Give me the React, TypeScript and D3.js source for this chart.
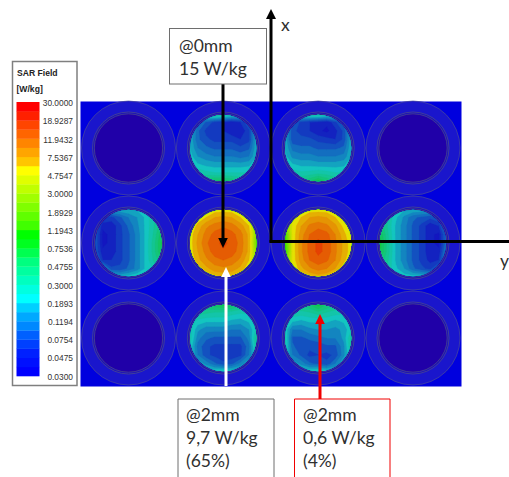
import React from "react";
import * as d3 from "d3";

const legendTicks = ["30.0000","18.9287","11.9432","7.5367","4.7547","3.0000","1.8929","1.1943","0.7536","0.4755","0.3000","0.1893","0.1194","0.0754","0.0475","0.0300"];
const bandColors = ["#0000ff","#0010ff","#0020ff","#0040ff","#0060ff","#0088ff","#00a8ff","#00d0ff","#00ffff","#00ffe0","#00ffc0","#00ffa0","#00ff80","#00ff50","#00ff20","#00ff00","#40ff00","#60ff00","#80ff00","#a0ff00","#c0ff00","#e0ff00","#ffff00","#ffc500","#ffa500","#ff8500","#ff6500","#ff4500","#ff2000","#ff0000"];

const discTopLeft = [
  [.3,.3,.3,.4,.35,.3,.25,.2,.2],
  [.25,.14,.09,.07,.06,.05,.06,.1,.2],
  [.22,.1,.07,.06,.06,.05,.05,.07,.2],
  [.2,.1,.08,.07,.07,.07,.06,.07,.2],
  [.2,.12,.1,.09,.09,.09,.08,.09,.2],
  [.22,.15,.13,.12,.12,.12,.11,.12,.2],
  [.25,.2,.18,.17,.17,.17,.17,.18,.25],
  [.3,.3,.27,.25,.25,.25,.25,.25,.3],
  [.4,.45,.5,.6,.6,.5,.4,.35,.3],
];
const discTopRight = [
  [.25,.25,.3,.35,.35,.3,.28,.25,.2],
  [.2,.1,.07,.06,.055,.05,.07,.12,.2],
  [.2,.08,.07,.06,.05,.045,.055,.08,.2],
  [.2,.08,.08,.08,.07,.065,.06,.08,.2],
  [.2,.11,.1,.1,.09,.09,.09,.1,.2],
  [.22,.14,.13,.13,.12,.12,.12,.13,.2],
  [.25,.2,.18,.18,.17,.17,.17,.18,.25],
  [.3,.28,.26,.27,.3,.28,.25,.25,.3],
  [.35,.35,.4,.5,.7,.5,.4,.35,.3],
];
const discMidA = [
  [.2,.2,.2,.2,.2,.2,.2,.25,.3],
  [.2,.08,.07,.09,.12,.15,.2,.3,.4],
  [.12,.05,.05,.07,.1,.14,.2,.3,.5],
  [.1,.045,.05,.07,.09,.13,.2,.32,.6],
  [.1,.045,.05,.07,.09,.13,.2,.35,.7],
  [.1,.05,.05,.07,.09,.13,.2,.35,.65],
  [.15,.06,.06,.07,.09,.13,.2,.32,.5],
  [.25,.2,.08,.08,.1,.13,.2,.25,.35],
  [.3,.3,.25,.2,.22,.25,.25,.25,.3],
];
const discMidB = [
  [3,3.5,4,5,5,5,4,3,2],
  [4,5,6,7.5,8,7.5,6,4.5,2.5],
  [4.5,6.5,9,10.5,11.5,10.5,8.5,6,2.2],
  [5,7.5,10.5,13,14,13,10.5,7,2],
  [5,8,11.5,14,16,14,11,7,1.6],
  [5,7.5,10.5,13.5,14.5,13.5,10.5,7,2],
  [4.5,7,9,11,12,11,9,6,2.5],
  [4,5.5,7,8.5,9,8.5,7,5,3],
  [4,4,5,6,6,6,5,4,3],
];
const discMidC = [
  [3,3.5,4.5,5,5,5,4,3.5,3],
  [3,4.5,6,7.5,8,7.5,6,4.5,3.5],
  [2,5,7.5,10,11,10,8,5.5,4],
  [1.2,5,8.5,12,14,13,9.5,6.5,4.5],
  [1,5,9,13,16,14,10,7,5],
  [1,5,9,13,16,14,10,7,5],
  [1.5,5,8.5,12,14,12.5,9.5,6.5,4.5],
  [3,4.5,7,9,10.5,9.5,7.5,5,4],
  [3.5,3.8,4.5,6,6.5,6,5,4,3.5],
];
const discMidD = [
  [.25,.25,.2,.2,.2,.2,.2,.2,.2],
  [.4,.3,.2,.14,.1,.09,.08,.1,.2],
  [.5,.3,.18,.13,.09,.07,.05,.06,.18],
  [.65,.32,.18,.13,.09,.07,.05,.045,.12],
  [.75,.35,.18,.13,.09,.07,.05,.045,.12],
  [.7,.35,.18,.13,.09,.07,.05,.05,.15],
  [.5,.32,.18,.13,.09,.07,.055,.06,.2],
  [.4,.28,.2,.15,.1,.08,.07,.12,.25],
  [.3,.28,.25,.22,.22,.22,.2,.25,.3],
];
const discBottomLeft = [
  [.35,.4,.5,.6,.7,.6,.45,.35,.3],
  [.35,.35,.32,.3,.3,.27,.25,.25,.3],
  [.3,.22,.2,.2,.2,.18,.17,.2,.3],
  [.28,.16,.13,.13,.13,.12,.12,.15,.28],
  [.3,.13,.1,.09,.09,.09,.09,.13,.4],
  [.25,.11,.08,.07,.07,.07,.07,.11,.35],
  [.25,.12,.08,.07,.065,.065,.07,.12,.25],
  [.25,.18,.14,.1,.08,.09,.13,.2,.25],
  [.22,.22,.22,.25,.28,.25,.22,.22,.22],
];
const discBottomRight = [
  [.3,.35,.4,.5,.75,.5,.4,.3,.25],
  [.3,.3,.28,.3,.35,.3,.27,.25,.25],
  [.25,.2,.18,.2,.2,.2,.18,.2,.25],
  [.25,.12,.12,.14,.15,.15,.14,.16,.25],
  [.3,.09,.09,.1,.11,.12,.12,.16,.35],
  [.3,.1,.08,.08,.08,.09,.09,.14,.35],
  [.25,.12,.09,.07,.075,.07,.08,.14,.28],
  [.22,.18,.14,.1,.09,.08,.12,.2,.25],
  [.22,.22,.22,.25,.28,.25,.22,.22,.22],
];

const filledDiscs = [
  { col: 1, row: 0, grid: discTopLeft },
  { col: 2, row: 0, grid: discTopRight },
  { col: 0, row: 1, grid: discMidA },
  { col: 1, row: 1, grid: discMidB },
  { col: 2, row: 1, grid: discMidC },
  { col: 3, row: 1, grid: discMidD },
  { col: 1, row: 2, grid: discBottomLeft },
  { col: 2, row: 2, grid: discBottomRight },
];
const colIdx = [0, 1, 2, 3];
const rowIdx = [0, 1, 2];

const W = 509, H = 477;
const xCol = d3.scaleLinear().domain([0, 3]).range([128.5, 413]);
const yRow = d3.scaleLinear().domain([0, 2]).range([148, 338]);
const sarToBand = d3.scaleLog().domain([0.03, 30]).range([0, 30]);
const legendBand = d3.scaleLinear().domain([30, 0]).range([102, 376]);
const legendTick = d3.scalePoint<string>().domain(legendTicks).range([103, 376.5]);

const R_OUT = 47, R_RING = 36, R_DISC = 33.2;
const N = 9;
const gridScale = d3.scaleLinear().domain([0.5, N - 0.5]).range([-R_DISC - 1, R_DISC + 1]);
const contourGen = d3.contours().size([N, N]).thresholds(d3.range(0, 30));
const geoPath = d3.geoPath(d3.geoTransform({
  point(x, y) { this.stream.point(gridScale(x), gridScale(y)); },
}));
const muted = (band: number) =>
  d3.interpolateRgb(bandColors[band], "rgb(70,40,20)")(band >= 16 ? 0.14 : 0.27);

function Disc({ grid, id }: { grid: number[][]; id: string }) {
  const vals = grid.flat().map((v) => sarToBand(v));
  const bands = contourGen(vals);
  return (
    <g clipPath={`url(#${id})`}>
      {bands.map((b, i) => (
        <path key={i} d={geoPath(b as any) || ""} fill={muted(b.value)} stroke={muted(b.value)} strokeWidth={0.3} />
      ))}
    </g>
  );
}

function Arrow({ x1, y1, x2, y2, color, w = 3, hw = 4.8, hl = 10 }: any) {
  const a = Math.atan2(y2 - y1, x2 - x1);
  const bx = x2 - hl * Math.cos(a), by = y2 - hl * Math.sin(a);
  const nx = -Math.sin(a), ny = Math.cos(a);
  return (
    <g>
      <line x1={x1} y1={y1} x2={bx} y2={by} stroke={color} strokeWidth={w} />
      <path d={`M${x2},${y2}L${bx + nx * hw},${by + ny * hw}L${bx - nx * hw},${by - ny * hw}Z`} fill={color} />
    </g>
  );
}

const noteFont = { fontFamily: "Lato, 'Open Sans', sans-serif", fontSize: 17.5, fill: "#303030" };

export default function App() {
  return (
    <svg width={W} height={H} viewBox={`0 0 ${W} ${H}`} style={{ position: "absolute", left: 0, top: 0, background: "#fff" }}>
      <defs>
        {filledDiscs.map((d, i) => (
          <clipPath id={`c${i}`} key={i}>
            <circle r={R_DISC} />
          </clipPath>
        ))}
      </defs>

      {/* legend */}
      <rect x={12.5} y={61.5} width={64.5} height={324} fill="#fff" stroke="#7f7f7f" strokeWidth={1.5} />
      <text x={17} y={76} fontFamily="'Liberation Sans', Arial, sans-serif" fontWeight="bold" fontSize={8.6} fill="#222">SAR Field</text>
      <text x={16.5} y={92} fontFamily="'Liberation Sans', Arial, sans-serif" fontWeight="bold" fontSize={8.6} fill="#222">[W/kg]</text>
      {bandColors.map((c, i) => (
        <rect key={i} x={16.5} width={23} y={legendBand(i + 1)} height={legendBand(i) - legendBand(i + 1) + 0.3} fill={c} />
      ))}
      {legendTicks.map((t) => (
        <text key={t} x={73} y={legendTick(t)! + 3.2} textAnchor="end" fontFamily="'Liberation Sans', Arial, sans-serif" fontSize={8.4} fill="#333">{t}</text>
      ))}

      {/* plate */}
      <rect x={80.5} y={101.5} width={381} height={285} fill="#0000de" />
      {rowIdx.map((r) =>
        colIdx.map((c) => (
          <g key={`${r}-${c}`} transform={`translate(${xCol(c)},${yRow(r)})`}>
            <circle r={R_OUT} fill="#1a16cc" stroke="#4a4a98" strokeWidth={0.7} />
            <circle r={R_RING} fill="#1a10b8" stroke="#505088" strokeWidth={0.7} />
            <circle r={R_DISC + 1} fill="#2000a8" stroke="#505088" strokeWidth={0.7} />
          </g>
        ))
      )}
      {filledDiscs.map((d, i) => (
        <g key={i} transform={`translate(${xCol(d.col)},${yRow(d.row)})`}>
          <Disc grid={d.grid} id={`c${i}`} />
        </g>
      ))}

      {/* axes */}
      <Arrow x1={271} y1={242.5} x2={271} y2={9} color="#000" hw={5} hl={10} />
      <line x1={269.5} y1={241.5} x2={509} y2={241.5} stroke="#000" strokeWidth={3} />
      <text x={281} y={31} {...noteFont}>x</text>
      <text x={500} y={267} {...noteFont}>y</text>

      {/* callouts */}
      <Arrow x1={223} y1={84} x2={223} y2={248} color="#000" hw={4.8} hl={10} />
      <Arrow x1={226} y1={386} x2={226} y2={267} color="#fff" hw={4.8} hl={10} />
      <Arrow x1={320} y1={399} x2={320} y2={314} color="#f00000" hw={4.8} hl={10} />

      <rect x={169.5} y={28.5} width={97} height={55.5} fill="#fff" stroke="#6e6e6e" strokeWidth={1} />
      <text x={179} y={52} {...noteFont}>@0mm</text>
      <text x={179} y={75} {...noteFont}>15 W/kg</text>

      <path d="M178,477V399H274V477" fill="none" stroke="#6e6e6e" strokeWidth={1} />
      <text x={186} y={421} {...noteFont}>@2mm</text>
      <text x={186} y={444} {...noteFont}>9,7 W/kg</text>
      <text x={186} y={467} {...noteFont}>(65%)</text>

      <path d="M294.5,477V399H390V477" fill="none" stroke="#f00000" strokeWidth={1} />
      <text x={303} y={421} {...noteFont}>@2mm</text>
      <text x={303} y={444} {...noteFont}>0,6 W/kg</text>
      <text x={303} y={467} {...noteFont}>(4%)</text>
    </svg>
  );
}
